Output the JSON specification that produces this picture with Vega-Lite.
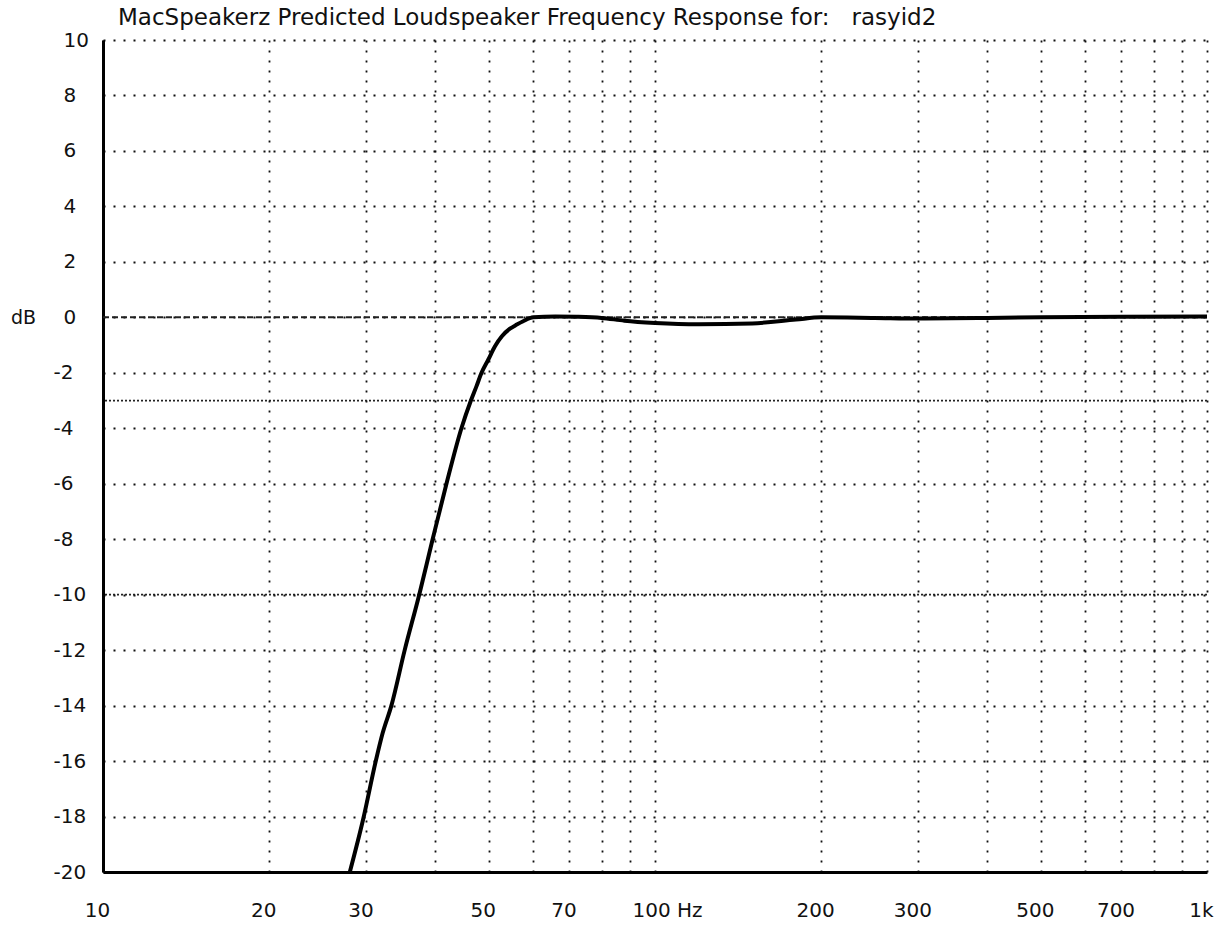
{
  "$schema": "https://vega.github.io/schema/vega-lite/v6.json",
  "autosize": {"type": "none"},
  "width": 1104,
  "height": 832,
  "padding": {"left": 103, "top": 40, "right": 14, "bottom": 61},
  "background": "white",
  "title": {
    "text": "MacSpeakerz Predicted Loudspeaker Frequency Response for:\u00a0\u00a0 rasyid2",
    "anchor": "start",
    "frame": "group",
    "dx": 15,
    "offset": 0,
    "font": "DejaVu Sans",
    "fontSize": 23,
    "fontWeight": "normal",
    "color": "#111"
  },
  "config": {
    "view": {"stroke": null},
    "axis": {
      "labelFont": "DejaVu Sans",
      "labelFontSize": 20,
      "labelColor": "#111",
      "ticks": false,
      "tickSize": 0,
      "domainColor": "#000",
      "domainWidth": 3,
      "grid": true,
      "gridColor": "#111",
      "gridDash": [2, 8],
      "gridWidth": 1.8,
      "gridOpacity": 1
    }
  },
  "layer": [
    {
      "data": {"values": [{"level": 0}]},
      "mark": {"type": "rule", "color": "#222", "strokeWidth": 2, "strokeDash": [6, 3]},
      "encoding": {
        "y": {"field": "level", "type": "quantitative", "scale": {"domain": [-20, 10]}}
      }
    },
    {
      "data": {"values": [{"level": -3}, {"level": -10}]},
      "mark": {"type": "rule", "color": "#222", "strokeWidth": 1.8, "strokeDash": [2, 2]},
      "encoding": {
        "y": {"field": "level", "type": "quantitative", "scale": {"domain": [-20, 10]}}
      }
    },
    {
      "data": {
        "values": [
          {"freq": 28.0, "db": -20.0},
          {"freq": 29.6, "db": -18.1},
          {"freq": 31.2, "db": -16.0},
          {"freq": 32.1, "db": -15.0},
          {"freq": 33.3, "db": -14.0},
          {"freq": 35.2, "db": -12.0},
          {"freq": 37.4, "db": -10.0},
          {"freq": 39.5, "db": -8.05},
          {"freq": 41.9, "db": -6.0},
          {"freq": 44.6, "db": -4.0},
          {"freq": 46.4, "db": -3.0},
          {"freq": 47.5, "db": -2.48},
          {"freq": 48.5, "db": -2.0},
          {"freq": 49.9, "db": -1.52},
          {"freq": 51.3, "db": -1.04},
          {"freq": 52.8, "db": -0.68},
          {"freq": 54.6, "db": -0.41},
          {"freq": 56.2, "db": -0.26},
          {"freq": 57.7, "db": -0.14},
          {"freq": 60.2, "db": 0.0},
          {"freq": 66, "db": 0.03},
          {"freq": 72, "db": 0.02},
          {"freq": 80, "db": -0.02},
          {"freq": 88, "db": -0.12},
          {"freq": 100, "db": -0.2},
          {"freq": 120, "db": -0.25},
          {"freq": 150, "db": -0.22},
          {"freq": 180, "db": -0.08},
          {"freq": 200, "db": 0.0},
          {"freq": 250, "db": -0.02},
          {"freq": 300, "db": -0.04},
          {"freq": 400, "db": -0.02},
          {"freq": 500, "db": 0.0},
          {"freq": 700, "db": 0.02},
          {"freq": 1000, "db": 0.03}
        ]
      },
      "mark": {"type": "line", "color": "#000", "strokeWidth": 4, "interpolate": "monotone"},
      "encoding": {
        "x": {
          "field": "freq",
          "type": "quantitative",
          "scale": {"type": "log", "domain": [10, 1000]},
          "axis": {
            "title": null,
            "values": [10, 20, 30, 40, 50, 60, 70, 80, 90, 100, 200, 300, 400, 500, 600, 700, 800, 900, 1000],
            "labelExpr": "datum.value == 1000 ? '1k' : datum.value == 100 ? '100 Hz' : indexof([10, 20, 30, 50, 70, 200, 300, 500, 700], datum.value) >= 0 ? datum.label : ''",
            "labelPadding": 28,
            "labelAlign": {"condition": {"test": "datum.value == 100", "value": "left"}, "value": "center"},
            "labelOffset": {"condition": {"test": "datum.value == 100", "value": -23}, "value": -6},
            "labelBound": false,
            "labelFlush": false,
            "labelOverlap": false
          }
        },
        "y": {
          "field": "db",
          "type": "quantitative",
          "scale": {"domain": [-20, 10]},
          "axis": {
            "title": "dB",
            "titleAngle": 0,
            "titleX": -80,
            "titleY": 277,
            "titleAlign": "center",
            "titleBaseline": "middle",
            "titleFont": "DejaVu Sans",
            "titleFontSize": 19,
            "titleFontWeight": "normal",
            "titleColor": "#111",
            "values": [-20, -18, -16, -14, -12, -10, -8, -6, -4, -2, 0, 2, 4, 6, 8, 10],
            "labelExpr": "'' + datum.value",
            "labelAlign": "left",
            "labelPadding": {"condition": {"test": "datum.value < 0", "value": 50}, "value": 40},
            "labelOverlap": false
          }
        }
      }
    }
  ]
}
